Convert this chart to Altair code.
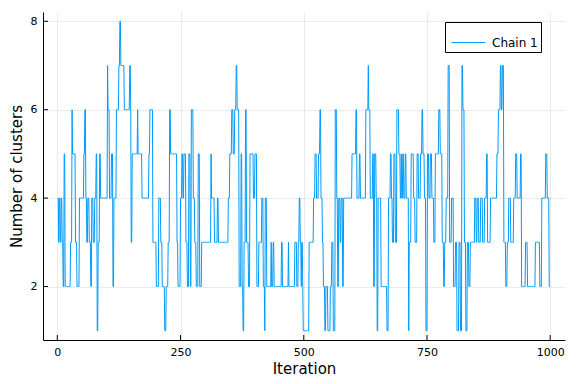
import altair as alt
import numpy as np
import pandas as pd

# Run-length description of the trace: iteration where each run starts, and its value
run_starts = [
    1, 3, 4, 6, 8, 10, 12, 14, 16, 27, 30, 31, 37, 40, 45, 54, 56, 58, 60, 62, 65, 68, 70, 73, 76, 79, 81, 83, 86, 88,
    102, 103, 106, 110, 113, 115, 120, 125, 127, 129, 136, 147, 149, 150, 152, 163, 164, 172, 186, 188,
    194, 201, 206, 210, 213, 218, 221, 225, 228, 230, 243, 245, 250, 253, 255, 257, 261, 264, 267, 270, 272, 276, 279, 282, 286, 289,
    293, 312, 313, 319, 325, 327, 347, 350, 354, 357, 360, 363, 365, 369, 373, 375, 377, 379, 382, 384, 388, 391,
    398, 401, 405, 409, 415, 418, 421, 422, 425, 434, 435, 438, 440, 455, 457, 469, 470, 482, 486, 489, 491, 493, 495, 496,
    498, 499, 511, 520, 523, 526, 530, 533, 535, 538, 540, 543, 545, 549, 554, 557, 560, 564, 567, 569, 571, 574, 576, 579, 581, 598,
    606, 608, 613, 615, 626, 631, 632, 635, 640, 642, 644, 647, 649, 651, 657, 669, 672, 676, 678, 680, 683, 686, 689, 693, 696, 698,
    699, 701, 703, 706, 708, 713, 714, 718, 723, 726, 730, 733, 737, 740, 742, 745, 748, 751, 754, 757, 760, 764, 767, 774, 777, 781, 784, 786, 789, 793, 796, 800,
    804, 808, 811, 815, 818, 821, 823, 826, 829, 832, 835, 838, 847, 850, 852, 855, 859, 863, 867, 871, 873, 879, 892, 895, 899, 901, 903, 906,
    910, 913, 916, 920, 926, 930, 933, 940, 942, 950, 954, 970, 979, 983, 991, 994, 998,
]
run_values = [
    4, 3, 4, 3, 4, 3, 2, 5, 2, 3, 6, 5, 3, 2, 4, 5, 6, 4, 3, 4, 3, 2, 4, 3, 4, 5, 1, 3, 5, 4,
    7, 6, 4, 5, 2, 4, 6, 7, 8, 7, 6, 7, 6, 3, 5, 6, 5, 4, 5, 6,
    3, 2, 4, 3, 2, 1, 2, 3, 6, 5, 3, 2, 4, 5, 4, 5, 3, 2, 5, 2, 6, 4, 3, 2, 5, 2,
    3, 5, 4, 3, 4, 3, 4, 5, 6, 5, 6, 7, 6, 2, 5, 2, 1, 3, 6, 3, 2, 5,
    4, 5, 2, 3, 4, 2, 1, 4, 2, 3, 2, 3, 2, 3, 2, 3, 2, 3, 2, 3, 4, 3, 2, 3,
    2, 1, 3, 4, 5, 4, 5, 6, 4, 3, 2, 1, 2, 1, 2, 3, 1, 6, 4, 2, 4, 3, 4, 2, 4, 5,
    6, 4, 5, 4, 6, 7, 6, 4, 5, 2, 5, 4, 1, 4, 2, 1, 4, 5, 4, 3, 5, 3, 6, 5, 4, 5,
    4, 5, 4, 5, 4, 1, 3, 5, 4, 3, 5, 4, 5, 6, 5, 4, 1, 5, 4, 5, 4, 3, 5, 6, 5, 3, 2, 3, 4, 7, 3, 4,
    2, 3, 1, 3, 1, 7, 6, 3, 1, 3, 2, 3, 4, 3, 4, 3, 4, 3, 4, 5, 3, 4, 5, 6, 7, 6, 7, 3,
    2, 3, 4, 3, 4, 5, 4, 5, 2, 3, 2, 3, 2, 4, 5, 4, 2,
]
n_iter = 1000
x_ticks = [0, 250, 500, 750, 1000]
y_ticks = [2, 4, 6, 8]
series_name = "Chain 1"

lengths = np.diff(np.array(run_starts + [n_iter + 1]))
clusters = np.repeat(np.array(run_values), lengths)
df = pd.DataFrame({
    "Iteration": np.arange(1, n_iter + 1),
    "Clusters": clusters,
    "Series": series_name,
})
xt = pd.DataFrame({"Iteration": x_ticks})
yt = pd.DataFrame({"Clusters": y_ticks})

W, H = 522, 328
FONT = "DejaVu Sans"
xs = alt.Scale(domain=[-29, 1030], nice=False, zero=False)
ys = alt.Scale(domain=[0.79, 8.21], nice=False, zero=False)

line = alt.Chart(df).mark_line(strokeWidth=1, interpolate="linear").encode(
    x=alt.X("Iteration:Q", scale=xs,
            axis=alt.Axis(values=x_ticks, title="Iteration", ticks=False, labelPadding=6,
                          titlePadding=4, format="d")),
    y=alt.Y("Clusters:Q", scale=ys,
            axis=alt.Axis(values=y_ticks, title="Number of clusters", ticks=False, labelPadding=6,
                          titlePadding=6, format="d")),
    color=alt.Color("Series:N", scale=alt.Scale(range=["#009AFA"]),
                    legend=alt.Legend(title=None, orient="none", legendX=402, legendY=10,
                                      strokeColor="black", fillColor="white", padding=3,
                                      symbolType="stroke", symbolSize=1156, symbolStrokeWidth=1,
                                      symbolOffset=3,
                                      labelFontSize=12, labelFont=FONT, labelOffset=6,
                                      labelExpr="datum.label + '\u00a0\u00a0'",
                                      cornerRadius=0)),
)

xtick = alt.Chart(xt).mark_rule(color="black", strokeWidth=1).encode(
    x=alt.X("Iteration:Q", scale=xs),
    y=alt.value(H), y2=alt.value(H - 5),
)
ytick = alt.Chart(yt).mark_rule(color="black", strokeWidth=1).encode(
    y=alt.Y("Clusters:Q", scale=ys),
    x=alt.value(0), x2=alt.value(5),
)

chart = alt.layer(line, xtick, ytick).properties(
    width=W, height=H,
    autosize=alt.AutoSizeParams(type="none"),
    padding={"left": 35, "top": 4, "right": 3, "bottom": 36},
).configure_view(stroke=None).configure_axis(
    domainColor="black", domainWidth=1,
    gridColor="black", gridOpacity=0.08, gridWidth=1,
    labelFont=FONT, labelFontSize=11, labelColor="black",
    titleFont=FONT, titleFontSize=15, titleFontWeight="normal", titleColor="black",
)

chart.save("out.html", embed_options={"renderer": "svg", "actions": False})
